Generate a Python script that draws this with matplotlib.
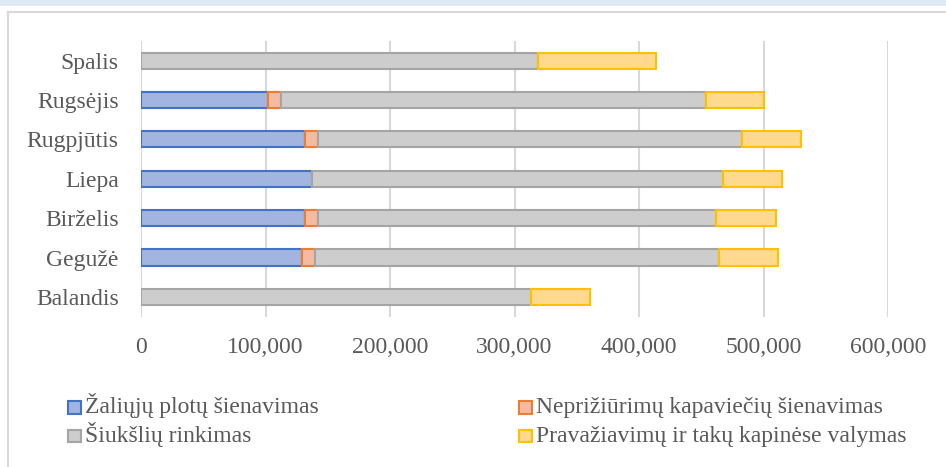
import numpy as np
import matplotlib
matplotlib.use('Agg')
from matplotlib import pyplot as plt
from matplotlib.patches import Rectangle
from matplotlib.lines import Line2D
import matplotlib.ticker as ticker

plt.rcParams['font.family'] = 'serif'
plt.rcParams['font.serif'] = ['Liberation Serif', 'DejaVu Serif']

# duomenys
months = ['Balandis', 'Gegužė', 'Birželis', 'Liepa', 'Rugpjūtis', 'Rugsėjis', 'Spalis']
zaliuju = [0, 129000, 131500, 137500, 131500, 102000, 0]
kapavieciu = [0, 11000, 10500, 0, 10500, 10500, 0]
siuksliu = [313000, 324000, 320000, 330000, 341000, 341000, 319000]
pravaziavimu = [47500, 48000, 48000, 47500, 47000, 47000, 95000]

series_names = ['Žaliųjų plotų šienavimas', 'Neprižiūrimų kapaviečių šienavimas',
                'Šiukšlių rinkimas', 'Pravažiavimų ir takų kapinėse valymas']
face_cols = ['#A2B4E0', '#F5BBA2', '#CDCDCD', '#FFD98E']
edge_cols = ['#4472C4', '#ED7D31', '#A5A5A5', '#FFC000']
txt_col = '#595959'
fs = 17

fig = plt.figure(figsize=(9.46, 4.67), dpi=100)
W, H = 946.0, 467.0

def fx(px):
    return px / W

def fy(py):
    return 1 - py / H

# virsutine juosta ir remelis
fig.patches.append(Rectangle((0, fy(6)), 1, 6 / H, transform=fig.transFigure,
                             facecolor='#DEE9F6', edgecolor='none', zorder=0))
fig.lines.append(Line2D([fx(8), fx(8)], [0, fy(12)], transform=fig.transFigure,
                        color='#D9D9D9', linewidth=1.5))
fig.lines.append(Line2D([fx(8), 1], [fy(12), fy(12)], transform=fig.transFigure,
                        color='#D9D9D9', linewidth=1.5))

ax = fig.add_axes([fx(141), fy(316.6), (888 - 141) / W, (316.6 - 41) / H])

y = np.arange(len(months))
data = [zaliuju, kapavieciu, siuksliu, pravaziavimu]
left = np.zeros(len(months))
for vals, fc, ec, name in zip(data, face_cols, edge_cols, series_names):
    vals = np.array(vals, dtype=float)
    bars = ax.barh(y, vals, left=left, height=0.41, color=fc, edgecolor=ec,
                   linewidth=1.5, label=name, zorder=3)
    for p, v in zip(bars.patches, vals):
        if v == 0:
            p.set_linewidth(0)
    left += vals

ax.set_xlim(0, 600000)
ax.set_ylim(-0.5, len(months) - 0.5)
ax.set_yticks(y)
ax.set_yticklabels(months)
ax.xaxis.set_major_locator(ticker.MultipleLocator(100000))
ax.xaxis.set_major_formatter(ticker.FuncFormatter(lambda v, p: '{:,.0f}'.format(v)))
ax.grid(axis='x', color='#D9D9D9', linewidth=1.5, zorder=0)
ax.set_axisbelow(True)
for s in ax.spines.values():
    s.set_visible(False)
ax.tick_params(axis='both', length=0, labelsize=fs, labelcolor=txt_col)
ax.tick_params(axis='x', pad=15)
ax.tick_params(axis='y', pad=16)

# legenda (eilutes: A B / C D), piesiama ranka kad eilutes sutaptu
leg_pos = [(68, 413.5), (519, 413.5), (68, 442), (519, 442)]
leg_order = [0, 1, 2, 3]
for (lx, ly), i in zip(leg_pos, leg_order):
    fig.patches.append(Rectangle((fx(lx), fy(ly)), 12.5 / W, 12.5 / H,
                                 transform=fig.transFigure, facecolor=face_cols[i],
                                 edgecolor=edge_cols[i], linewidth=1.5))
    fig.text(fx(lx + 17), fy(ly), series_names[i], fontsize=fs, color=txt_col,
             ha='left', va='baseline')

fig.savefig('out.png', dpi=100)
